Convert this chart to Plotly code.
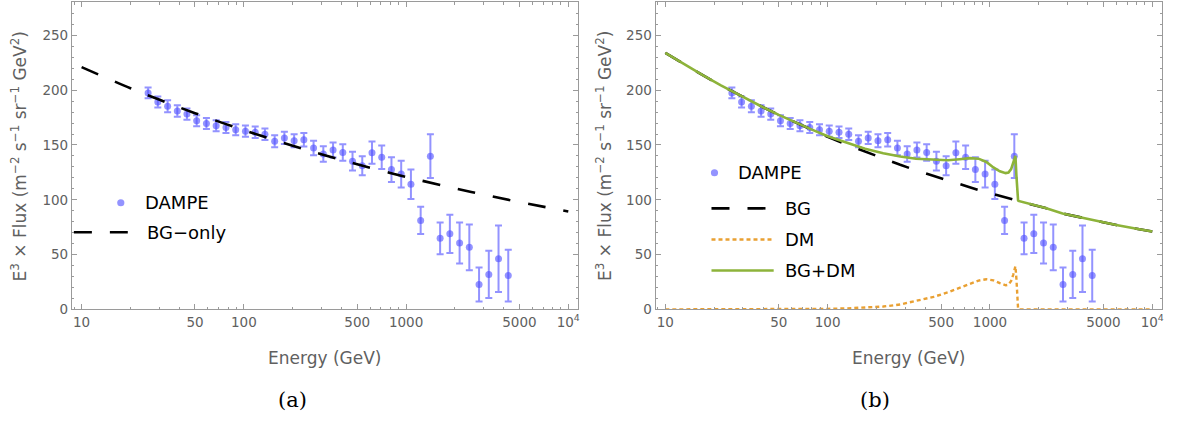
import plotly.graph_objects as go

# ---------------- data ----------------
# DAMPE electron+positron spectrum: bin energies (GeV), E^3 x flux, 1-sigma errors
energy = [25.7, 29.5, 33.9, 38.9, 44.6, 51.2, 58.8, 67.5, 77.6, 89.1,
          102.3, 117.5, 134.9, 154.9, 177.8, 204.2, 234.4, 269.1, 309.0, 354.8,
          407.4, 467.7, 537.0, 616.6, 707.9, 812.8, 933.3, 1071.5, 1230.3, 1412.5,
          1621.8, 1862.1, 2138.0, 2454.7, 2818.4, 3236.0, 3715.4, 4265.8]
flux = [197.5, 189.2, 185.3, 181.0, 178.2, 172.0, 169.6, 167.6, 166.0, 163.8,
        162.6, 161.6, 159.8, 153.4, 156.4, 153.8, 154.8, 147.2, 141.8, 145.4,
        143.2, 135.2, 131.0, 143.0, 138.8, 127.6, 123.4, 114.2, 81.2, 139.8,
        64.8, 68.9, 60.6, 56.6, 22.8, 31.9, 46.2, 30.9]
flux_err = [4.9, 5.0, 5.4, 5.2, 5.1, 5.0, 5.0, 5.0, 5.0, 5.0,
            5.1, 5.2, 5.3, 5.4, 5.6, 5.9, 6.2, 6.6, 7.0, 6.8,
            7.5, 8.5, 8.7, 10.2, 10.8, 11.3, 12.2, 13.4, 12.4, 19.9,
            14.5, 17.5, 18.7, 20.9, 15.5, 21.6, 30.3, 23.6]

# (a) background-only fit
bg_only_energy = [10, 20, 30, 50, 100, 200, 300, 500, 1000, 2000, 3000, 5000, 10000]
bg_only_flux = [221.0, 201.8, 191.4, 179.0, 163.5, 149.3, 141.6, 132.4, 120.9,
                110.4, 104.7, 97.9, 89.4]

# (b) background + dark-matter fit
model_energy = [10, 13, 17, 22, 30, 40, 50, 65, 80, 100,
                130, 170, 220, 280, 350, 450, 550, 650, 750, 850,
                950, 1050, 1150, 1250, 1300, 1350, 1390, 1420, 1435, 1455,
                1475, 1490, 1500, 1800, 2200, 2800, 3500, 4500, 6000, 8000, 10000]
bg_flux = [234.0, 223.7, 213.7, 204.4, 193.7, 184.4, 177.4, 169.6, 163.7, 157.5,
           150.6, 143.8, 137.5, 131.9, 126.9, 121.6, 117.5, 114.2, 111.4, 109.0,
           106.9, 105.1, 103.5, 102.0, 101.3, 100.7, 100.1, 99.8, 99.6, 99.4,
           99.2, 99.0, 98.9, 95.8, 92.5, 87.5, 84.5, 80.5, 77.0, 73.5, 71.0]
dm_flux = [0.0, 0.0, 0.0, 0.0, 0.0, 0.0, 0.1, 0.2, 0.3, 0.5,
           0.9, 1.5, 2.6, 4.5, 7.5, 11.5, 15.5, 19.5, 23.5, 26.3,
           27.5, 26.5, 24.0, 22.0, 22.5, 26.0, 31.5, 38.0, 39.5, 28.0,
           8.0, 0.5, 0.0, 0.0, 0.0, 0.0, 0.0, 0.0, 0.0, 0.0, 0.0]
total_flux = [234.0, 223.7, 213.7, 204.4, 193.7, 184.4, 177.4, 169.7, 164.0, 158.0,
              152.0, 146.5, 142.5, 139.5, 137.5, 136.3, 136.0, 137.0, 138.0, 137.5,
              134.5, 129.5, 126.0, 124.3, 124.8, 128.0, 134.0, 139.5, 140.0, 122.0,
              102.0, 99.6, 98.9, 95.8, 92.5, 87.5, 84.5, 80.5, 77.0, 73.5, 71.0]

x_tickvals = [10, 50, 100, 500, 1000, 5000, 10000]
x_ticktext = ["10", "50", "100", "500", "1000", "5000", "10<sup>4</sup>"]
x_minor = [9, 20, 30, 40, 60, 70, 80, 90, 200, 300, 400, 600, 700, 800, 900,
           2000, 3000, 4000, 6000, 7000, 8000, 9000]
y_tickvals = [0, 50, 100, 150, 200, 250]

# ---------------- styles ----------------
W, H = 1179, 428
FONT = "DejaVu Sans"
FRAME = "#9a9a9a"
LABEL = "#606060"
PT_COLOR = "rgba(80,80,255,0.62)"
BG_COLOR = "black"
DM_COLOR = "#e9a032"
TOT_COLOR = "#8db33a"


def px(x):
    return x / W


def py(y):
    return 1 - y / H


fig = go.Figure()

for xa, ya in (("x", "y"), ("x2", "y2")):
    fig.add_trace(go.Scatter(
        x=energy, y=flux, mode="markers", xaxis=xa, yaxis=ya,
        marker=dict(size=7, color=PT_COLOR, line=dict(width=0)),
        error_y=dict(type="data", array=flux_err, color=PT_COLOR,
                     thickness=2, width=3.5),
        showlegend=False, hoverinfo="skip"))

# (a) BG-only curve
fig.add_trace(go.Scatter(
    x=bg_only_energy, y=bg_only_flux, mode="lines", xaxis="x", yaxis="y",
    line=dict(color=BG_COLOR, width=2.6, dash="18px,18px", shape="spline"),
    showlegend=False))

# (b) BG, DM and BG+DM curves
fig.add_trace(go.Scatter(
    x=model_energy, y=bg_flux, mode="lines", xaxis="x2", yaxis="y2",
    line=dict(color=BG_COLOR, width=2.6, dash="18px,18px"), showlegend=False))
fig.add_trace(go.Scatter(
    x=model_energy, y=dm_flux, mode="lines", xaxis="x2", yaxis="y2",
    line=dict(color=DM_COLOR, width=2.4, dash="4px,3px"), showlegend=False))
fig.add_trace(go.Scatter(
    x=model_energy, y=total_flux, mode="lines", xaxis="x2", yaxis="y2",
    line=dict(color=TOT_COLOR, width=2.6), showlegend=False))

plot_top, plot_bottom = 2.5, 315.3
panels = [(72, 579), (656.7, 1164)]


def xaxis_cfg(x0, x1):
    return dict(
        type="log", range=[0.94, 4.06], domain=[px(x0), px(x1)],
        tickmode="array", tickvals=x_tickvals, ticktext=x_ticktext,
        ticks="inside", ticklen=5, tickwidth=1, tickcolor=FRAME,
        showline=True, linecolor=FRAME, linewidth=1, mirror="ticks",
        showgrid=False, zeroline=False,
        tickfont=dict(family=FONT, size=13.5, color=LABEL),
        minor=dict(tickmode="array", tickvals=x_minor, ticks="inside",
                   ticklen=2.5, tickcolor=FRAME, showgrid=False))


def yaxis_cfg(anchor):
    return dict(
        range=[0, 280], domain=[py(plot_bottom), py(plot_top)], anchor=anchor,
        tickmode="array", tickvals=y_tickvals,
        ticks="inside", ticklen=5, tickwidth=1, tickcolor=FRAME,
        showline=True, linecolor=FRAME, linewidth=1, mirror="ticks",
        showgrid=False, zeroline=False,
        tickfont=dict(family=FONT, size=13.5, color=LABEL),
        minor=dict(dtick=10, ticks="inside", ticklen=2.5, tickcolor=FRAME,
                   showgrid=False))


fig.update_layout(
    width=W, height=H, margin=dict(l=0, r=0, t=0, b=0),
    paper_bgcolor="white", plot_bgcolor="white", showlegend=False,
    xaxis=dict(**xaxis_cfg(*panels[0]), anchor="y"),
    yaxis=yaxis_cfg("x"),
    xaxis2=dict(**xaxis_cfg(*panels[1]), anchor="y2"),
    yaxis2=yaxis_cfg("x2"),
)

ytitle = ("E<sup>3</sup> × Flux (m<sup>−2</sup> s<sup>−1</sup> sr<sup>−1</sup> "
          "GeV<sup>2</sup>)")
annotations = []
shapes = []


def text_at(x, y, text, size, color, family=FONT, xanchor="center", angle=0):
    annotations.append(dict(
        x=px(x), y=py(y), xref="paper", yref="paper",
        xanchor=xanchor, yanchor="middle", textangle=angle,
        text=text, showarrow=False,
        font=dict(family=family, size=size, color=color)))


for (x0, x1), ytx, tag, tagx in zip(panels, (18.5, 605), ("(a)", "(b)"), (292.5, 876)):
    text_at(ytx, (plot_top + plot_bottom) / 2, ytitle, 17, LABEL, angle=-90)
    text_at((x0 + x1) / 2, 365, "Energy (GeV)", 17, LABEL)
    text_at(tagx, 408, tag, 21, "black", family="DejaVu Serif")


def legend_text(x, y, text):
    text_at(x, y, text, 18, "black", xanchor="left")


def legend_dot(x, y):
    r = 3.6
    shapes.append(dict(type="circle", xref="paper", yref="paper",
                       x0=px(x - r), x1=px(x + r), y0=py(y + r), y1=py(y - r),
                       fillcolor=PT_COLOR, line=dict(width=0)))


def legend_line(x0, x1, y, color, width, dash):
    shapes.append(dict(type="line", xref="paper", yref="paper",
                       x0=px(x0), x1=px(x1), y0=py(y), y1=py(y),
                       line=dict(color=color, width=width, dash=dash)))


# legend of panel (a)
legend_dot(121, 206.7)
legend_text(143, 206.7, "DAMPE")
legend_line(74, 128, 236.7, BG_COLOR, 2.6, "18px,18px")
legend_text(145, 236.7, "BG−only")

# legend of panel (b)
legend_dot(715.7, 176)
legend_text(737, 176, "DAMPE")
legend_line(712.7, 768.5, 212.3, BG_COLOR, 2.6, "18px,18px")
legend_text(784, 212.3, "BG")
legend_line(712.7, 773.5, 244, DM_COLOR, 2.4, "4px,3px")
legend_text(784, 244, "DM")
legend_line(712.7, 775, 275.7, TOT_COLOR, 2.6, "solid")
legend_text(784, 275.7, "BG+DM")

fig.update_layout(annotations=annotations, shapes=shapes)

fig.write_html("out.html")
